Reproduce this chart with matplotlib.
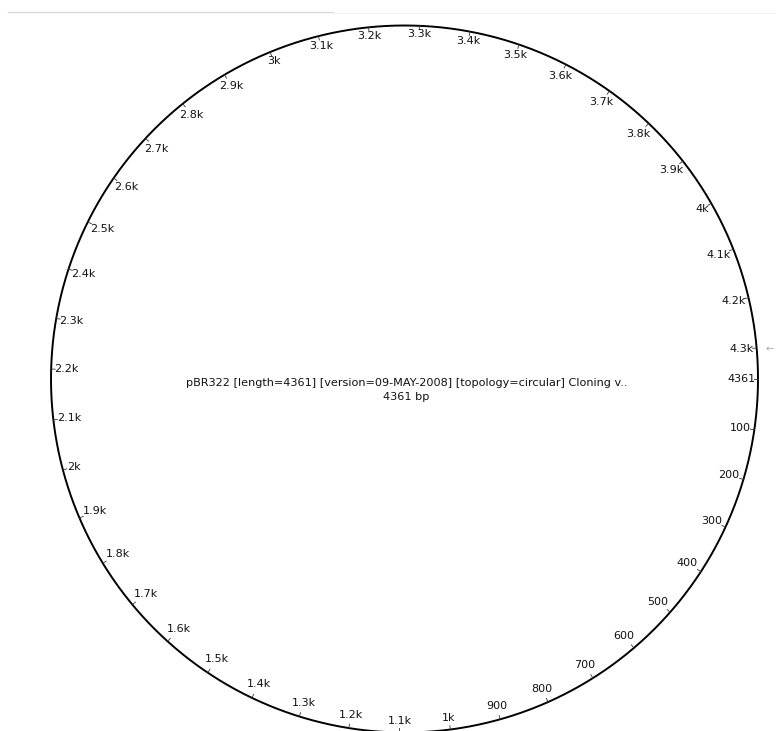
import numpy as np
import matplotlib
matplotlib.use("Agg")
import matplotlib.pyplot as plt

seq_name = "pBR322 [length=4361] [version=09-MAY-2008] [topology=circular] Cloning v.."
seq_length = 4361
tick_positions = list(range(0, 4400, 100))[:44]  # 0..4300
tick_labels = ["4361"] + [str(p) if p < 1000 else (f"{p/1000:g}k") for p in range(100, 4400, 100)]

W, H = 776, 731
fig = plt.figure(figsize=(W / 100, H / 100), dpi=100)
ax = fig.add_axes([0, 0, 1, 1])
ax.set_xlim(0, W)
ax.set_ylim(H, 0)
ax.axis("off")

cx, cy, R = 404.5, 379.0, 353.5
fs = 8.0
font = "DejaVu Sans"

# backbone circle
t = np.linspace(0, 2 * np.pi, 721)
ax.plot(cx + R * np.cos(t), cy + R * np.sin(t), color="black", lw=1.4, solid_capstyle="butt")

# top window border line
ax.plot([8, 333], [12, 12], color="#d8d8d8", lw=1.0)
ax.plot([333, 776], [13, 13], color="#f0f0f0", lw=0.8)

fig.canvas.draw()
renderer = fig.canvas.get_renderer()

tick_len = 4
gap = 2.5
for pos, lab in zip(tick_positions, tick_labels):
    th = 2 * np.pi * pos / seq_length
    ux, uy = np.cos(th), np.sin(th)
    x0, y0 = cx + R * ux, cy + R * uy
    ax.plot([x0, x0 - tick_len * ux], [y0, y0 - tick_len * uy], color="#333333", lw=0.6)
    txt = ax.text(0, 0, lab, fontsize=fs, family=font, ha="center", va="center", color="#111111")
    bb = txt.get_window_extent(renderer=renderer)
    w, h = bb.width, bb.height
    d = abs(ux) * w / 2 + abs(uy) * h / 2 + gap + max(uy, 0) * 3.5
    txt.set_position((x0 - ux * d, y0 - uy * d))

# center labels
ax.text(cx + 2, cy + 3.5, seq_name, fontsize=8.1, family=font, ha="center", va="center", color="#111111")
ax.text(cx + 2, cy + 18.5, f"{seq_length} bp", fontsize=8.1, family=font, ha="center", va="center", color="#111111")

# small arrow at right
ax.text(770, 349, "\u2190", fontsize=7, family=font, ha="center", va="center", color="#aaaaaa")

fig.savefig("out.png", dpi=100)
